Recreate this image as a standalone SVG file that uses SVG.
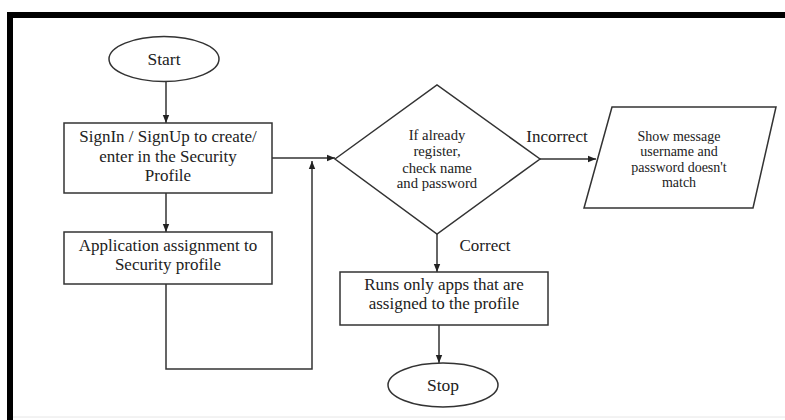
<svg xmlns="http://www.w3.org/2000/svg" width="785" height="420" viewBox="0 0 785 420">
<style>
.sh{fill:#fff;stroke:#333;stroke-width:1.5}
.t{font-family:"Liberation Serif","DejaVu Serif",serif;fill:#222;text-anchor:middle}
.s{font-size:14px}
.d{font-size:14.7px}
.m{font-size:17px}
.e{font-size:17.5px}
.c{fill:none;stroke:#333;stroke-width:1.5}
</style>
<defs>
<marker id="ah" viewBox="0 0 10 10" refX="10" refY="5" markerWidth="8" markerHeight="8" markerUnits="userSpaceOnUse" orient="auto">
<path d="M0,1 L10,5 L0,9 z" fill="#222"/>
</marker>
</defs>
<rect x="0" y="0" width="785" height="420" fill="#fff"/>
<g id="frame">
<rect x="7" y="12" width="778" height="6" fill="#000"/>
<rect x="7" y="12" width="6" height="408" fill="#000"/>
<line x1="13" y1="417" x2="785" y2="417" stroke="#e6e6e6" stroke-width="1"/>
</g>
<g id="connectors">
<line class="c" x1="166" y1="82" x2="166" y2="123" marker-end="url(#ah)"/>
<line class="c" x1="166" y1="193" x2="166" y2="232" marker-end="url(#ah)"/>
<line class="c" x1="272" y1="158" x2="335" y2="158" marker-end="url(#ah)"/>
<polyline class="c" points="166,284 166,369 312,369 312,161" marker-end="url(#ah)"/>
<line class="c" x1="540" y1="159" x2="596" y2="159" marker-end="url(#ah)"/>
<line class="c" x1="437" y1="234" x2="437" y2="272" marker-end="url(#ah)"/>
<line class="c" x1="439" y1="325" x2="439" y2="363" marker-end="url(#ah)"/>
<text class="t m" x="557" y="142">Incorrect</text>
<text class="t m" x="485" y="251">Correct</text>
</g>
<g id="start">
<ellipse class="sh" cx="164" cy="59" rx="55" ry="22.5"/>
<text class="t e" x="164" y="65">Start</text>
</g>
<g id="signin">
<rect class="sh" x="64" y="123" width="208" height="70"/>
<text class="t m"><tspan x="168" y="142">SignIn / SignUp to create/</tspan><tspan x="168" y="162">enter in the Security</tspan><tspan x="168" y="181">Profile</tspan></text>
</g>
<g id="assign">
<rect class="sh" x="64" y="232" width="208" height="52"/>
<text class="t m"><tspan x="168" y="251">Application assignment to</tspan><tspan x="168" y="270">Security profile</tspan></text>
</g>
<g id="check">
<polygon class="sh" points="335,159 437,85 540,159 437,234"/>
<text class="t d"><tspan x="437" y="140">If already</tspan><tspan x="437" y="156">register,</tspan><tspan x="437" y="173">check name</tspan><tspan x="437" y="188">and password</tspan></text>
</g>
<g id="message">
<polygon class="sh" points="612,107 776,107 753,208 584,208"/>
<text class="t s"><tspan x="679" y="141">Show message</tspan><tspan x="679" y="156">username and</tspan><tspan x="679" y="172">password doesn't</tspan><tspan x="679" y="187">match</tspan></text>
</g>
<g id="runs">
<rect class="sh" x="340" y="272" width="208" height="53"/>
<text class="t m"><tspan x="444" y="290">Runs only apps that are</tspan><tspan x="444" y="309">assigned to the profile</tspan></text>
</g>
<g id="stop">
<ellipse class="sh" cx="443" cy="385" rx="55" ry="22"/>
<text class="t e" x="443" y="391">Stop</text>
</g>
</svg>
